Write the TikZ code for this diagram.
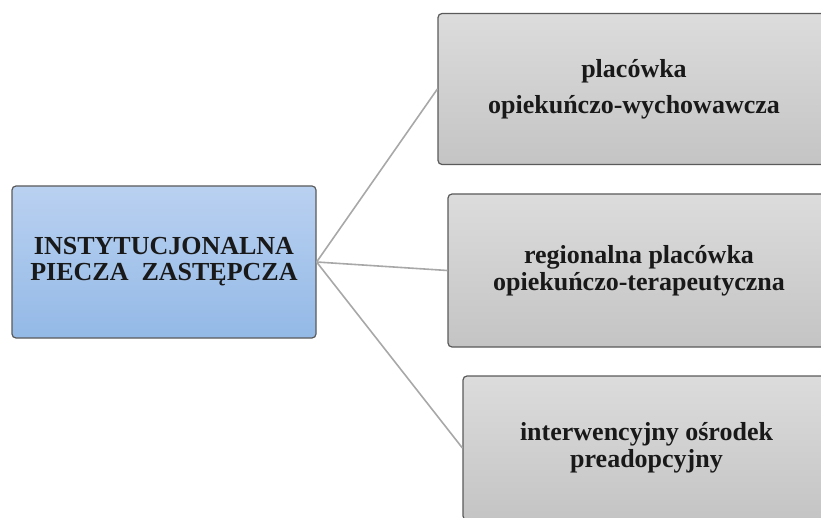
\documentclass[tikz,border=0pt]{standalone}
\usepackage{fontspec}
\setmainfont{Liberation Serif}
\tikzset{>=latex}
\definecolor{boxline}{HTML}{5A5A5A}
\definecolor{linkgray}{HTML}{A8A8A8}
\definecolor{bluetop}{HTML}{BAD1F1}
\definecolor{bluebottom}{HTML}{93B9E6}
\definecolor{graytop}{HTML}{DCDCDC}
\definecolor{graybottom}{HTML}{C4C4C4}
\tikzset{
  box/.style={rectangle, rounded corners=4pt, draw=boxline, line width=1.2pt,
    align=center, text=black!90, font=\fontsize{26}{36}\selectfont\bfseries},
  mainbox/.style={box, top color=bluetop, bottom color=bluebottom,
    font=\fontsize{26}{26}\selectfont\bfseries},
  subbox/.style={box, top color=graytop, bottom color=graybottom},
  link/.style={draw=linkgray, line width=1.6pt}
}

\begin{document}
\begin{tikzpicture}[x=1pt, y=-1pt]
      \useasboundingbox (0,0) rectangle (821,518);
      \node[mainbox, minimum width=304pt, minimum height=152pt] (piecza) at (164,262)
        {INSTYTUCJONALNA\\PIECZA\ \ ZASTĘPCZA};
      \node[subbox, minimum width=392pt, minimum height=151pt] (wych) at (634,89)
        {placówka\\opiekuńczo-wychowawcza};
      \node[subbox, minimum width=382pt, minimum height=153pt, font=\fontsize{26}{27}\selectfont\bfseries] (terap) at (639,270.5)
        {regionalna placówka\\opiekuńczo-terapeutyczna};
      \node[subbox, minimum width=367pt, minimum height=144pt, font=\fontsize{26}{27}\selectfont\bfseries] (preadop) at (646.5,448)
        {interwencyjny ośrodek\\preadopcyjny};
      \draw[link] (piecza.east) -- (wych.west);
      \draw[link] (piecza.east) -- (terap.west);
      \draw[link] (piecza.east) -- (preadop.west);
    \end{tikzpicture}
\end{document}
